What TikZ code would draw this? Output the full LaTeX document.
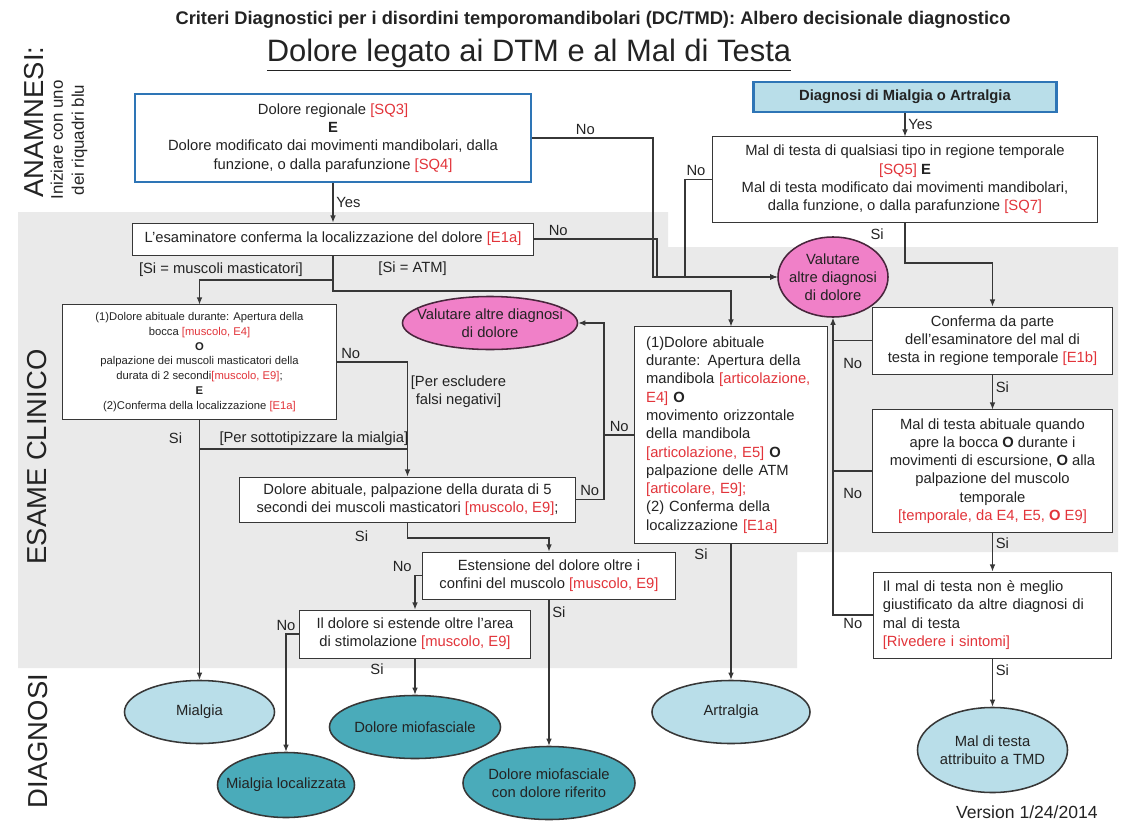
\documentclass[tikz,border=0pt]{standalone}
\usepackage{fontspec}
\setmainfont{Liberation Sans}
\usetikzlibrary{arrows.meta,positioning,shapes.geometric}

\definecolor{dtmblue}{RGB}{46,117,182}
\definecolor{dtmlight}{RGB}{185,222,233}
\definecolor{dtmteal}{RGB}{74,171,186}
\definecolor{dtmpink}{RGB}{240,128,200}
\definecolor{dtmred}{RGB}{226,52,58}
\definecolor{dtmgrey}{RGB}{234,234,234}
\definecolor{dtmline}{RGB}{55,55,55}
\definecolor{dtmtext}{RGB}{35,35,35}

\newcommand{\rf}[1]{\textcolor{dtmred}{#1}}
\newcommand{\zw}[1]{\makebox[0pt]{#1}}

\begin{document}
\begin{tikzpicture}[
  x=0.025cm, y=-0.025cm,
  every node/.style={font=\fontsize{10.5}{13}\selectfont, text=dtmtext},
  >={Latex[length=5pt,width=4pt]}, thick,
  box/.style={draw=dtmline, fill=white, line width=0.7pt, align=center, inner sep=2pt},
  sqbox/.style={box, draw=dtmblue, line width=1.8pt},
  diagbox/.style={box, fill=dtmlight, draw=dtmblue, line width=1.6pt},
  oval/.style={ellipse, draw=dtmline, line width=1.1pt, align=center, inner sep=0pt},
  pinkoval/.style={oval, fill=dtmpink, draw=black!70!dtmpink},
  lightoval/.style={oval, fill=dtmlight},
  tealoval/.style={oval, fill=dtmteal},
  side/.style={font=\fontsize{19.5}{22}\selectfont, rotate=90},
  lbl/.style={inner sep=2pt},
  conn/.style={->, draw=dtmline, line width=0.8pt},
  link/.style={draw=dtmline, line width=0.8pt}
]
\useasboundingbox (0,0) rectangle (1132,822);

% Background of the clinical area
\fill[dtmgrey] (18,212) -- (668,212) -- (668,247) -- (1118,247) -- (1118,552)
  -- (797,552) -- (797,668) -- (18,668) -- cycle;

% Titles and side headings
\node[font=\bfseries\fontsize{13}{15}\selectfont] (title) at (593,20)
  {Criteri Diagnostici per i disordini temporomandibolari (DC/TMD): Albero decisionale diagnostico};
\node[font=\fontsize{22}{26}\selectfont] (subtitle) at (529,55)
  {\underline{Dolore legato ai DTM e al Mal di Testa}};
\node[side] (anam) at (34,122) {ANAMNESI:};
\node[rotate=90, align=center, font=\fontsize{12}{15}\selectfont] (start) at (69,140)
  {Iniziare con uno\\dei riquadri blu};
\node[side] (esame) at (37,457) {ESAME CLINICO};
\node[side] (diagn) at (38,741) {DIAGNOSI};
\node[anchor=east, font=\fontsize{12.5}{15}\selectfont] (version) at (1103,812) {Version 1/24/2014};

% Boxes (questions and tests)
\node[sqbox, minimum width=9.9cm, minimum height=2.2cm] (sq) at (333,138)
  {Dolore regionale \rf{[SQ3]}\\\textbf{E}\\Dolore modificato dai movimenti mandibolari, dalla\\funzione, o dalla parafunzione \rf{[SQ4]}};
\node[diagbox, minimum width=7.575cm, minimum height=0.75cm] (diag) at (905,97)
  {\textbf{Diagnosi di Mialgia o Artralgia}};
\node[box, minimum width=10cm, minimum height=0.8cm] (e1a) at (333,239)
  {L'esaminatore conferma la localizzazione del dolore \rf{[E1a]}};
\node[box, minimum width=9.6cm, minimum height=2.125cm] (mdt) at (905,179.5)
  {Mal di testa di qualsiasi tipo in regione temporale\\\rf{[SQ5]} \textbf{E}\\Mal di testa modificato dai movimenti mandibolari,\\dalla funzione, o dalla parafunzione \rf{[SQ7]}};
\node[box, font=\fontsize{8}{10.5}\selectfont, minimum width=6.825cm, minimum height=2.85cm] (musc) at (199.5,362)
  {(1)Dolore abituale durante: Apertura della\\bocca \rf{[muscolo, E4]}\\\textbf{O}\\palpazione dei muscoli masticatori della\\durata di 2 secondi\rf{[muscolo, E9]};\\\textbf{E}\\(2)Conferma della localizzazione \rf{[E1a]}};
\node[box, align=left, text width=4.24cm, inner xsep=8pt, minimum height=5.4cm] (atm) at (731,435)
  {(1)Dolore abituale\\durante: Apertura della\\mandibola \rf{[articolazione,}\\\rf{E4]} \textbf{O}\\movimento orizzontale\\della mandibola\\\rf{[articolazione, E5]} \textbf{O}\\palpazione delle ATM\\\rf{[articolare, E9];}\\(2) Conferma della\\localizzazione \rf{[E1a]}};
\node[box, minimum width=8.375cm, minimum height=1.125cm] (sec5) at (407.5,499.5)
  {Dolore abituale, palpazione della durata di 5\\secondi dei muscoli masticatori \rf{[muscolo, E9]};};
\node[box, minimum width=6.3cm, minimum height=1.175cm] (ext) at (549,575.5)
  {Estensione del dolore oltre i\\confini del muscolo \rf{[muscolo, E9]}};
\node[box, minimum width=5.75cm, minimum height=1.2cm] (loc) at (415,634)
  {Il dolore si estende oltre l'area\\di stimolazione \rf{[muscolo, E9]}};
\node[box, minimum width=5.975cm, minimum height=1.675cm] (conf) at (992.5,340.5)
  {Conferma da parte\\dell'esaminatore del mal di\\testa in regione temporale \rf{[E1b]}};
\node[box, minimum width=5.975cm, minimum height=3.05cm] (mta) at (992.5,471)
  {Mal di testa abituale quando\\apre la bocca \textbf{O} durante i\\movimenti di escursione, \textbf{O} alla\\palpazione del muscolo\\temporale\\\rf{[temporale, da E4, E5, \textbf{O} E9]}};
\node[box, align=left, text width=5.48cm, inner xsep=7pt, minimum height=2.15cm] (nmb) at (992.5,615)
  {Il mal di testa non è meglio\\giustificato da altre diagnosi di\\mal di testa\\\rf{[Rivedere i sintomi]}};

% Ellipses (other diagnoses and results)
\node[pinkoval, minimum width=2.75cm, minimum height=2cm] (val1) at (833,277)
  {Valutare\\\zw{altre diagnosi}\\di dolore};
\node[pinkoval, minimum width=4.375cm, minimum height=1.325cm] (val2) at (490,323)
  {\zw{Valutare altre diagnosi}\\di dolore};
\node[lightoval, minimum width=3.75cm, minimum height=1.575cm] (mialgia) at (199.5,712) {Mialgia};
\node[tealoval, minimum width=3.425cm, minimum height=1.625cm] (mloc) at (286,785) {\zw{Mialgia localizzata}};
\node[tealoval, minimum width=4.275cm, minimum height=1.575cm] (mfas) at (415,727) {\zw{Dolore miofasciale}};
\node[tealoval, minimum width=4.3cm, minimum height=1.825cm] (mrif) at (549,783)
  {\zw{Dolore miofasciale}\\\zw{con dolore riferito}};
\node[lightoval, minimum width=3.95cm, minimum height=1.575cm] (artr) at (731,712) {Artralgia};
\node[lightoval, minimum width=3.75cm, minimum height=2.125cm] (tmd) at (992.5,750)
  {Mal di testa\\\zw{attribuito a TMD}};

\coordinate (sotto) at (0,449);
\coordinate (vleft) at (604,323);

% Arrows (history)
\draw[conn] (sq) -- node[lbl,right] (yes1) {Yes} (e1a);
\draw[conn] (sq.east) -| node[lbl,above,pos=0.22] (no1) {No} (653,277) -- (val1.west);
\draw[conn] (e1a.east) -| node[lbl,above,pos=0.1] (no2) {No} (657,277) -- (val1.west);
\draw[conn] (diag) -- node[lbl,right] (yes2) {Yes} (mdt);
\draw[conn] (mdt.west) -| node[lbl,above,pos=0.3] (no3) {No} (685,277) -- (val1.west);
\draw[conn] (mdt.south) -- node[lbl,left=0.45cm,pos=0.3] (si1) {Si} (905,263) -| (conf.north);

% Arrows (muscles)
\draw[conn] (e1a.south) -- (333,280) -| node[lbl,above,pos=0.42] (simm) {[Si = muscoli masticatori]} (musc.north);
\draw[conn] (musc.east) -| node[lbl,above,pos=0.1] (no4) {No}
  node[lbl,right,align=center,pos=0.63] (falsi) {[Per escludere\\falsi negativi]} (sec5.north);
\draw[conn] (musc.south) -- node[lbl,left=0.35cm,pos=0.07] (si2) {Si} (mialgia.north);
\draw[link] (musc.south |- sotto) -- node[lbl,above,pos=0.55] (subt) {[Per sottotipizzare la mialgia]} (sec5.north |- sotto);
\draw[conn] (sec5.east) -| node[lbl,above,pos=0.25] (no5) {No} (vleft) -- (val2.east);
\draw[conn] (sec5.south) -- node[lbl,left=0.9cm,pos=0.9] (si3) {Si} (407.5,538) -| (ext.north);
\draw[conn] (ext.west) -| node[lbl,above left,pos=0.5] (no7) {No} (loc.north);
\draw[conn] (ext.south) -- node[lbl,right,pos=0.09] (si4) {Si} (mrif.north);
\draw[conn] (loc.west) -| node[lbl,above,pos=0.5] (no8) {No} (mloc.north);
\draw[conn] (loc.south) -- node[lbl,left=0.7cm,pos=0.3] (si5) {Si} (mfas.north);

% Arrows (joint)
\draw[conn] (e1a.south) -- (333,291) -| node[lbl,above=0.3cm,pos=0.1] (siatm) {[Si = ATM]} (atm.north);
\draw[link] (atm.west) -- node[lbl,above] (no6) {No} (atm.west -| vleft);
\draw[conn] (atm.south) -- node[lbl,left=0.5cm,pos=0.08] (si6) {Si} (artr.north);

% Arrows (headache)
\draw[conn] (conf) -- node[lbl,right,pos=0.35] (si7) {Si} (mta);
\draw[conn] (mta) -- node[lbl,right,pos=0.28] (si8) {Si} (nmb);
\draw[conn] (nmb) -- node[lbl,right,pos=0.25] (si9) {Si} (tmd);
\draw[conn] (nmb.west) -| node[lbl,below,pos=0.25] (no9) {No} (val1.south);
\draw[link] (conf.west) -- node[lbl,below=0.35cm] (no10) {No} (conf.west -| val1.south);
\draw[link] (mta.west) -- node[lbl,below=0.35cm] (no11) {No} (mta.west -| val1.south);

\end{tikzpicture}
\end{document}
